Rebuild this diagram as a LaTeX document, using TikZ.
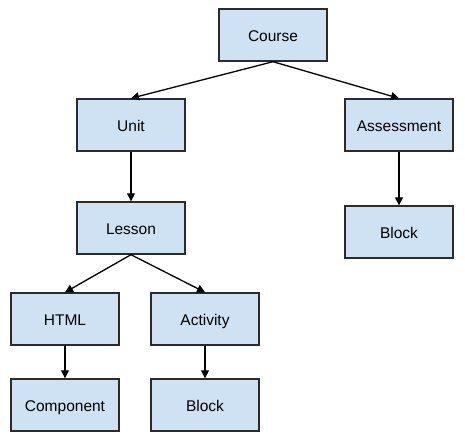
\documentclass[tikz,border=0pt]{standalone}
\usepackage{fontspec}
\setmainfont{Liberation Sans}
\usetikzlibrary{arrows.meta}
\definecolor{boxfill}{HTML}{CFE2F3}
\definecolor{boxline}{HTML}{2B2B2B}
\begin{document}
\begin{tikzpicture}[x=1pt,y=-1pt,
  box/.style={draw=boxline,fill=boxfill,line width=1.4pt,minimum width=108pt,minimum height=52pt,inner sep=0pt,text height=13.5pt,text depth=0pt,font=\fontsize{15.5}{18}\selectfont},
  link/.style={draw=black,line width=1.3pt,-{Triangle[length=8pt,width=8pt]}}]
\useasboundingbox (0,0) rectangle (465,442);
\node[box] (course) at (273,35) {Course};
\node[box] (unit) at (131,125) {Unit};
\node[box] (assess) at (399,125) {Assessment};
\node[box] (lesson) at (131,228) {Lesson};
\node[box] (blockr) at (399,232) {Block};
\node[box] (html) at (65,319) {HTML};
\node[box] (activity) at (205,319) {Activity};
\node[box] (component) at (65,405) {Component};
\node[box] (blockl) at (205,405) {Block};
\draw[link] (course.south) -- (unit.north);
\draw[link] (course.south) -- (assess.north);
\draw[link] (unit.south) -- (lesson.north);
\draw[link] (assess.south) -- (blockr.north);
\draw[link] (lesson.south) -- (html.north);
\draw[link] (lesson.south) -- (activity.north);
\draw[link] (html.south) -- (component.north);
\draw[link] (activity.south) -- (blockl.north);
\end{tikzpicture}
\end{document}
